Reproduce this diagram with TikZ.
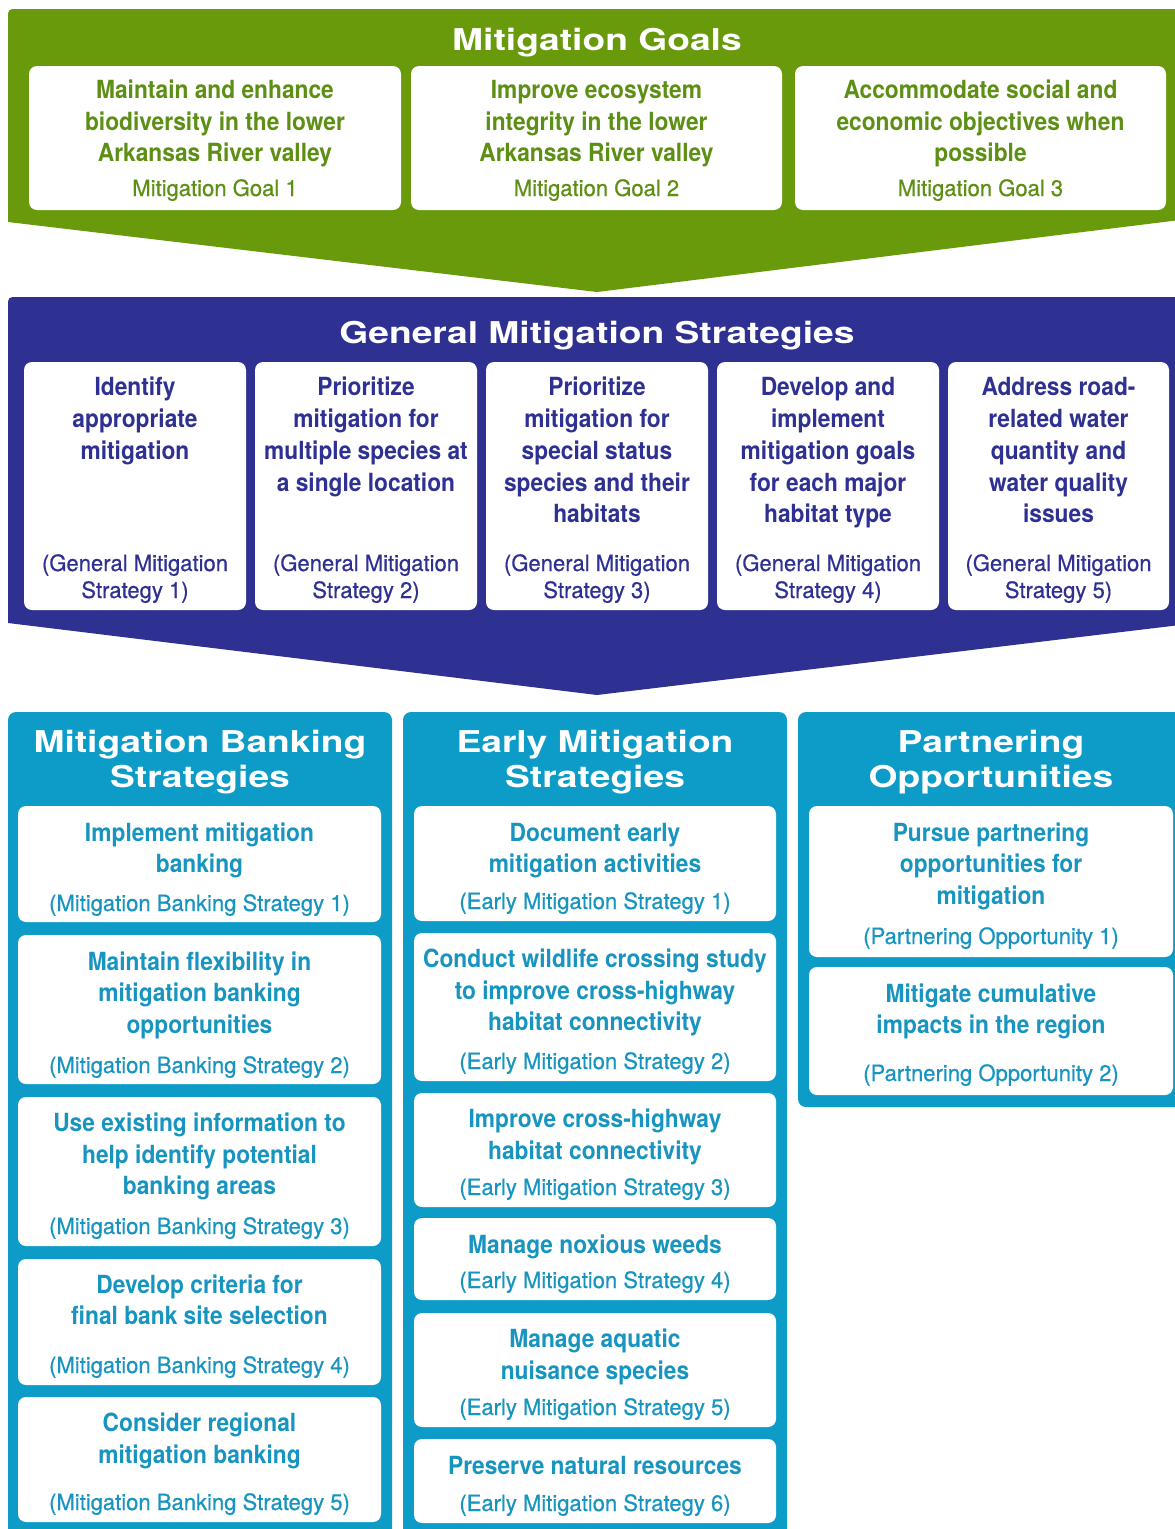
\documentclass[tikz,border=0pt]{standalone}
\usepackage{fontspec}
\setmainfont{TeX Gyre Heros}
\newfontfamily\condfont[FakeStretch=0.91]{TeX Gyre Heros}
\newfontfamily\subfont[FakeStretch=0.98,FakeBold=0.5]{TeX Gyre Heros}
\newfontfamily\widefont[FakeStretch=1.24]{TeX Gyre Heros}
\definecolor{gpanel}{HTML}{689A0C}
\definecolor{gtext}{HTML}{5D8F15}
\definecolor{bpanel}{HTML}{2E3192}
\definecolor{btext}{HTML}{2E3192}
\definecolor{cpanel}{HTML}{0C9CC7}
\definecolor{ctext}{HTML}{1795C0}
\newcommand\wbox[5]{\node[wbox, minimum width={#4-#2}, minimum height={#5-#3}] (#1) at ({(#2+#4)/2},{(#3+#5)/2}) {};}
\newcommand\putline[5]{\node[#1] (#2) at (#3,#4) {#5};}
\begin{document}
\begin{tikzpicture}[x=1pt,y=-1pt,
  wbox/.style={fill=white, rounded corners=8pt, inner sep=0pt, outer sep=0pt, draw=none},
  ttl/.style={font=\widefont\fontsize{30}{30}\selectfont\bfseries, text=white, anchor=base, inner sep=0pt},
  mainline/.style={font=\condfont\fontsize{25}{25}\selectfont\bfseries, anchor=base, inner sep=0pt},
  subline/.style={font=\subfont\fontsize{22.5}{22.5}\selectfont, anchor=base, inner sep=0pt},
  gmain/.style={mainline, text=gtext}, gsub/.style={subline, text=gtext},
  bmain/.style={mainline, text=btext}, bsub/.style={subline, text=btext},
  cmain/.style={mainline, text=ctext}, csub/.style={subline, text=ctext}]
\useasboundingbox (0,0) rectangle (1175,1529);
\fill[white] (0,0) rectangle (1175,1529);
\clip (0,0) rectangle (1175,1529);

% ---------- Mitigation Goals panel ----------
\fill[gpanel] (597,292) -- (8,222) -- (8,19) .. controls (8,9) .. (18,9) -- (1180,9) -- (1180,220) -- cycle;
\putline{ttl}{tgoals}{597}{50}{Mitigation Goals}
\wbox{g1}{29}{66}{401}{210}
\wbox{g2}{411}{66}{782}{210}
\wbox{g3}{795}{66}{1166}{210}
\putline{gmain}{g1a}{215}{98}{Maintain and enhance}
\putline{gmain}{g1b}{215}{130}{biodiversity in the lower}
\putline{gmain}{g1c}{215}{161}{Arkansas River valley}
\putline{gsub}{g1s}{215}{196}{Mitigation Goal 1}
\putline{gmain}{g2a}{596.5}{98}{Improve ecosystem}
\putline{gmain}{g2b}{596.5}{130}{integrity in the lower}
\putline{gmain}{g2c}{596.5}{161}{Arkansas River valley}
\putline{gsub}{g2s}{596.5}{196}{Mitigation Goal 2}
\putline{gmain}{g3a}{980.5}{98}{Accommodate social and}
\putline{gmain}{g3b}{980.5}{130}{economic objectives when}
\putline{gmain}{g3c}{980.5}{161}{possible}
\putline{gsub}{g3s}{980.5}{196}{Mitigation Goal 3}

% ---------- General Mitigation Strategies panel ----------
\fill[bpanel] (597,695) -- (8,623) -- (8,307) .. controls (8,297) .. (18,297) -- (1180,297) -- (1180,625) -- cycle;
\putline{ttl}{tgms}{597}{343}{General Mitigation Strategies}
\wbox{s1}{24}{362}{246}{610}
\wbox{s2}{255}{362}{477}{610}
\wbox{s3}{486}{362}{708}{610}
\wbox{s4}{717}{362}{939}{610}
\wbox{s5}{948}{362}{1169}{610}
\putline{bmain}{s1a}{135}{395}{Identify}
\putline{bmain}{s1b}{135}{427}{appropriate}
\putline{bmain}{s1c}{135}{459}{mitigation}
\putline{bmain}{s2a}{366}{395}{Prioritize}
\putline{bmain}{s2b}{366}{427}{mitigation for}
\putline{bmain}{s2c}{366}{459}{multiple species at}
\putline{bmain}{s2d}{366}{491}{a single location}
\putline{bmain}{s3a}{597}{395}{Prioritize}
\putline{bmain}{s3b}{597}{427}{mitigation for}
\putline{bmain}{s3c}{597}{459}{special status}
\putline{bmain}{s3d}{597}{491}{species and their}
\putline{bmain}{s3e}{597}{522}{habitats}
\putline{bmain}{s4a}{828}{395}{Develop and}
\putline{bmain}{s4b}{828}{427}{implement}
\putline{bmain}{s4c}{828}{459}{mitigation goals}
\putline{bmain}{s4d}{828}{491}{for each major}
\putline{bmain}{s4e}{828}{522}{habitat type}
\putline{bmain}{s5a}{1058.5}{395}{Address road-}
\putline{bmain}{s5b}{1058.5}{427}{related water}
\putline{bmain}{s5c}{1058.5}{459}{quantity and}
\putline{bmain}{s5d}{1058.5}{491}{water quality}
\putline{bmain}{s5e}{1058.5}{522}{issues}
\putline{bsub}{s1s}{135}{571}{(General Mitigation}
\putline{bsub}{s1t}{135}{598}{Strategy 1)}
\putline{bsub}{s2s}{366}{571}{(General Mitigation}
\putline{bsub}{s2t}{366}{598}{Strategy 2)}
\putline{bsub}{s3s}{597}{571}{(General Mitigation}
\putline{bsub}{s3t}{597}{598}{Strategy 3)}
\putline{bsub}{s4s}{828}{571}{(General Mitigation}
\putline{bsub}{s4t}{828}{598}{Strategy 4)}
\putline{bsub}{s5s}{1058.5}{571}{(General Mitigation}
\putline{bsub}{s5t}{1058.5}{598}{Strategy 5)}

% ---------- three cyan columns ----------
\fill[cpanel, rounded corners=8pt] (8,712) rectangle (392,1545);
\fill[cpanel, rounded corners=8pt] (403,712) rectangle (787,1545);
\fill[cpanel, rounded corners=8pt] (798,712) rectangle (1190,1107);
\putline{ttl}{tmb1}{200}{752}{Mitigation Banking}
\putline{ttl}{tmb2}{200}{787}{Strategies}
\putline{ttl}{tem1}{595}{752}{Early Mitigation}
\putline{ttl}{tem2}{595}{787}{Strategies}
\putline{ttl}{tpo1}{991}{752}{Partnering}
\putline{ttl}{tpo2}{991}{787}{Opportunities}

% Mitigation Banking boxes
\wbox{mb1}{18}{806}{381}{922}
\wbox{mb2}{18}{935}{381}{1084}
\wbox{mb3}{18}{1097}{381}{1246}
\wbox{mb4}{18}{1259}{381}{1385}
\wbox{mb5}{18}{1397}{381}{1522}
\putline{cmain}{mb1a}{199.5}{841}{Implement mitigation}
\putline{cmain}{mb1b}{199.5}{872}{banking}
\putline{csub}{mb1s}{199.5}{911}{(Mitigation Banking Strategy 1)}
\putline{cmain}{mb2a}{199.5}{970}{Maintain flexibility in}
\putline{cmain}{mb2b}{199.5}{1001}{mitigation banking}
\putline{cmain}{mb2c}{199.5}{1033}{opportunities}
\putline{csub}{mb2s}{199.5}{1073}{(Mitigation Banking Strategy 2)}
\putline{cmain}{mb3a}{199.5}{1131}{Use existing information to}
\putline{cmain}{mb3b}{199.5}{1163}{help identify potential}
\putline{cmain}{mb3c}{199.5}{1194}{banking areas}
\putline{csub}{mb3s}{199.5}{1234}{(Mitigation Banking Strategy 3)}
\putline{cmain}{mb4a}{199.5}{1293}{Develop criteria for}
\putline{cmain}{mb4b}{199.5}{1324}{final bank site selection}
\putline{csub}{mb4s}{199.5}{1373}{(Mitigation Banking Strategy 4)}
\putline{cmain}{mb5a}{199.5}{1431}{Consider regional}
\putline{cmain}{mb5b}{199.5}{1463}{mitigation banking}
\putline{csub}{mb5s}{199.5}{1510}{(Mitigation Banking Strategy 5)}

% Early Mitigation boxes
\wbox{em1}{414}{806}{776}{921}
\wbox{em2}{414}{933}{776}{1081}
\wbox{em3}{414}{1093}{776}{1207}
\wbox{em4}{414}{1218}{776}{1300}
\wbox{em5}{414}{1313}{776}{1427}
\wbox{em6}{414}{1439}{776}{1523}
\putline{cmain}{em1a}{595}{841}{Document early}
\putline{cmain}{em1b}{595}{872}{mitigation activities}
\putline{csub}{em1s}{595}{909}{(Early Mitigation Strategy 1)}
\putline{cmain}{em2a}{595}{967}{Conduct wildlife crossing study}
\putline{cmain}{em2b}{595}{999}{to improve cross-highway}
\putline{cmain}{em2c}{595}{1030}{habitat connectivity}
\putline{csub}{em2s}{595}{1069}{(Early Mitigation Strategy 2)}
\putline{cmain}{em3a}{595}{1127}{Improve cross-highway}
\putline{cmain}{em3b}{595}{1159}{habitat connectivity}
\putline{csub}{em3s}{595}{1195}{(Early Mitigation Strategy 3)}
\putline{cmain}{em4a}{595}{1253}{Manage noxious weeds}
\putline{csub}{em4s}{595}{1288}{(Early Mitigation Strategy 4)}
\putline{cmain}{em5a}{595}{1347}{Manage aquatic}
\putline{cmain}{em5b}{595}{1379}{nuisance species}
\putline{csub}{em5s}{595}{1415}{(Early Mitigation Strategy 5)}
\putline{cmain}{em6a}{595}{1474}{Preserve natural resources}
\putline{csub}{em6s}{595}{1511}{(Early Mitigation Strategy 6)}

% Partnering boxes
\wbox{po1}{809}{806}{1173}{957}
\wbox{po2}{809}{967}{1173}{1095}
\putline{cmain}{po1a}{991}{841}{Pursue partnering}
\putline{cmain}{po1b}{991}{872}{opportunities for}
\putline{cmain}{po1c}{991}{904}{mitigation}
\putline{csub}{po1s}{991}{944}{(Partnering Opportunity 1)}
\putline{cmain}{po2a}{991}{1002}{Mitigate cumulative}
\putline{cmain}{po2b}{991}{1033}{impacts in the region}
\putline{csub}{po2s}{991}{1081}{(Partnering Opportunity 2)}
\end{tikzpicture}
\end{document}
